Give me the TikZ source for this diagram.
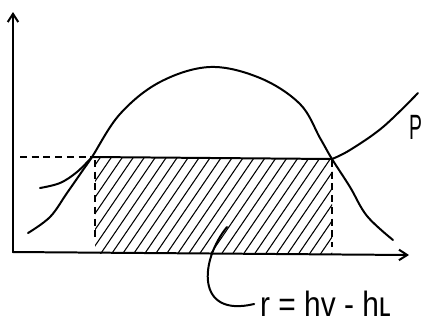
\documentclass[tikz,border=0pt]{standalone}
\usepackage{fontspec}
\setmainfont{Liberation Sans}
\usetikzlibrary{arrows.meta}
\begin{document}
\begin{tikzpicture}[x=0.03cm,y=-0.03cm,
  curve/.style={line width=1.7pt,line cap=round,line join=round},
  hatchline/.style={line width=0.9pt},
  dashline/.style={line width=1pt,dash pattern=on 6pt off 4pt},
  lbl/.style={inner sep=0pt,anchor=west}]
\useasboundingbox (0,0) rectangle (425,323);
\coordinate (O) at (13,252);
\coordinate (Ytop) at (13,12);
\coordinate (Xend) at (409,255);
\coordinate (A) at (92,157);
\coordinate (B) at (332,159);
\coordinate (Ly) at (20,157);
% hatching
\begin{scope}
  \clip (95,158) rectangle (332,253);
  \foreach \i in {-8,...,24} {
    \draw[hatchline] ({95+11*\i},262) -- ({95+11*\i+75},152);
  }
\end{scope}
% axes
\draw[curve,-{Straight Barb[length=7pt,width=9pt]}] (O) -- (Ytop);
\draw[curve,-{Straight Barb[length=7pt,width=9pt]}] (O) -- (Xend);
% dashed lines
\draw[dashline] (Ly) -- (A);
\draw[dashline] (95,160) -- (95,240);
\draw[dashline] (332,160) -- (332,247);
% dome
\draw[curve] plot[smooth,tension=0.6] coordinates {(28,233) (50,217) (67,193) (83,170) (A) (120,114) (160,82) (210,67) (260,78) (300,104) (320,138) (B) (350,187) (367,216) (393,240)};
% P curve
\draw[curve] plot[smooth,tension=0.6] coordinates {(40,188) (60,183) (77,172) (A)};
\draw[curve] (A) -- (B);
\draw[curve] plot[smooth,tension=0.6] coordinates {(B) (350,150) (383,127) (418,93)};
\node[lbl] (P) at (409,127) {\fontsize{30}{32}\selectfont\scalebox{0.55}[1]{P}};
% leader and label
\coordinate (H) at (227,227);
\node[lbl] (R) at (260,304) {\fontsize{30}{32}\selectfont\scalebox{0.85}[1]{r = hv - hʟ}};
\draw[curve] (H) .. controls (200,260) and (195,318) .. ([xshift=-5pt]R.west);
\end{tikzpicture}
\end{document}
